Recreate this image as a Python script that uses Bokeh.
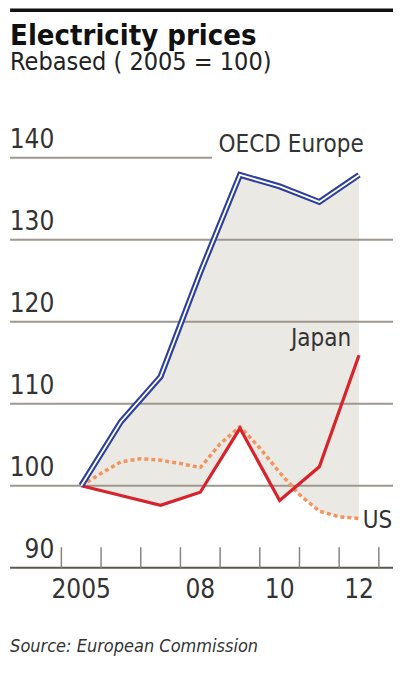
import numpy as np
from bokeh.plotting import figure
from bokeh.models import Range1d, Label, ColumnDataSource
from bokeh.core.properties import value
from bokeh.embed import file_html
from bokeh.resources import INLINE

# ---------------- data ----------------
years = [2005, 2006, 2007, 2008, 2009, 2010, 2011, 2012]
oecd_europe = [100, 107.8, 113.3, 126.0, 137.9, 136.5, 134.6, 137.9]
japan = [100, 98.8, 97.6, 99.2, 107.0, 98.2, 102.3, 115.9]
us_periods = [2005, 2005.5, 2006, 2006.5, 2007, 2007.5, 2008, 2008.5,
              2009, 2009.5, 2010, 2010.5, 2011, 2011.5, 2012]
us = [100, 101.5, 102.9, 103.3, 103.1, 102.7, 102.2, 105.1,
      107.2, 104.6, 101.6, 98.9, 96.9, 96.2, 96.0]

y_ticks = [90, 100, 110, 120, 130, 140]
x_tick_years = [2005, 2008, 2010, 2012]
x_tick_labels = ["2005", "08", "10", "12"]
year_bounds = [2004.5, 2005.5, 2006.5, 2007.5, 2008.5, 2009.5, 2010.5, 2011.5, 2012.5]

# ---------------- layout ----------------
W, H = 393, 657            # canvas
REF_W, REF_H = 409, 673    # design space (reference pixels)
YEAR_PX = 41.3             # design px per year
X2005 = 84                 # design px of 2005
VAL_PX = 8.4               # design px per index point
Y100 = 497                 # design px of 100

X0 = 2005 - X2005 / YEAR_PX
X1 = X0 + REF_W / YEAR_PX
Y1 = 100 + Y100 / VAL_PX
Y0 = Y1 - REF_H / VAL_PX


def px_x(xr):
    return X0 + xr / YEAR_PX


def px_y(yr):
    return Y1 - yr / VAL_PX


FONT = "DejaVu Sans Condensed"
TXT = "#333333"

p = figure(width=W, height=H, x_range=Range1d(X0, X1), y_range=Range1d(Y0, Y1),
           toolbar_location=None, output_backend="svg", min_border=0,
           x_axis_location=None, y_axis_location=None,
           outline_line_color=None, background_fill_color="white",
           border_fill_color="white")
p.grid.visible = False

# shaded band between OECD Europe and the lower of Japan / US
t = np.linspace(years[0], years[-1], 1401)
lo = np.minimum(np.interp(t, years, japan), np.interp(t, us_periods, us))
hi = np.interp(t, years, oecd_europe)
p.varea(x=t, y1=lo, y2=hi, fill_color="#ebe9e3")

# gridlines
grid_ticks = [v for v in y_ticks if v not in (90, 140)]
p.segment(x0=[px_x(10)] * len(grid_ticks), x1=[px_x(420)] * len(grid_ticks),
          y0=grid_ticks, y1=grid_ticks, line_color="#9d978f", line_width=2)
p.segment(x0=[px_x(10)], x1=[px_x(220)], y0=[140], y1=[140],
          line_color="#9d978f", line_width=2)
# axis line
p.segment(x0=[px_x(10)], x1=[px_x(420)], y0=[y_ticks[0]], y1=[y_ticks[0]],
          line_color="#5a5652", line_width=2)
# x ticks (year boundaries)
p.segment(x0=year_bounds, x1=year_bounds,
          y0=[y_ticks[0]] * len(year_bounds),
          y1=[y_ticks[0] + 21 / VAL_PX] * len(year_bounds),
          line_color="#8a857f", line_width=1.5)

# y tick labels (sit above their gridlines)
ysrc = ColumnDataSource(dict(x=[px_x(56)] * len(y_ticks), y=y_ticks,
                             t=[str(v) for v in y_ticks]))
p.text(x="x", y="y", text="t", source=ysrc, text_align="right",
       text_baseline="middle", y_offset=-19.5, text_font=value(FONT),
       text_font_size="26px", text_color=TXT)

# x tick labels
xsrc = ColumnDataSource(dict(x=x_tick_years, y=[y_ticks[0]] * len(x_tick_years),
                             t=x_tick_labels))
p.text(x="x", y="y", text="t", source=xsrc, text_align="center",
       text_baseline="middle", y_offset=20.5, text_font=value(FONT),
       text_font_size="26px", text_color=TXT)

# series
p.line(us_periods, us, line_color="#f29460", line_width=3.5, line_dash="4 3")
p.line(years, japan, line_color="#d8232d", line_width=3.2, line_join="miter")
p.line(years, oecd_europe, line_color="#2c3f9c", line_width=6, line_join="miter")
p.line(years, oecd_europe, line_color="white", line_width=1.8, line_join="miter")


def label(xr, yr, text, size, align="left", style="normal", color=TXT):
    p.add_layout(Label(x=px_x(xr), y=px_y(yr), text=text, text_font=FONT,
                       text_font_size=f"{size}px", text_font_style=style,
                       text_color=color, text_align=align, text_baseline="middle"))


# series labels (y = centre of capitals, design px)
label(227, 147.5, "OECD Europe", 24)
label(365, 346, "Japan", 24, align="right")
label(377, 532, "US", 24)

# title block
p.segment(x0=[px_x(10)], x1=[px_x(420)], y0=[px_y(10)], y1=[px_y(10)],
          line_color="#111111", line_width=3.5)
label(10, 35, "Electricity prices", 29, style="bold", color="#111111")
label(10, 62.5, "Rebased ( 2005 = 100)", 25, color="#222222")
label(10, 661, "Source: European Commission", 18, style="italic")

open("out.html", "w").write(file_html(p, INLINE))
